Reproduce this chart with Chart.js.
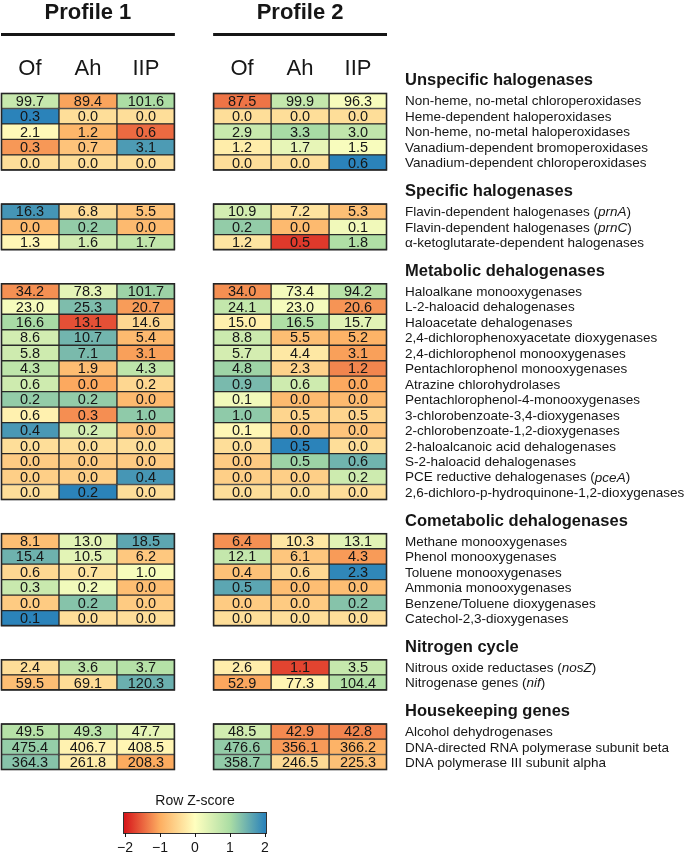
<!DOCTYPE html>
<html lang="en">
<head>
<meta charset="UTF-8">
<title>Halogenase gene heatmap</title>
<script src="https://cdn.jsdelivr.net/npm/chart.js"></script>
<style>
  html, body { margin: 0; padding: 0; background: #fff; }
  #wrap { width: 685px; height: 855px; }
</style>
</head>
<body>
<div id="wrap"><canvas id="heatmap" width="685" height="855"></canvas></div>
<script>
    // ---- data ----
    const profiles = ['Profile 1', 'Profile 2'];
    const columns = ['Of', 'Ah', 'IIP', 'Of', 'Ah', 'IIP'];
    const sections = ['Unspecific halogenases', 'Specific halogenases', 'Metabolic dehalogenases',
        'Cometabolic dehalogenases', 'Nitrogen cycle', 'Housekeeping genes'];
    const sectionSizes = [5, 3, 14, 6, 2, 3];
    // *text* marks an italic part
    const genes = [
        'Non-heme, no-metal chloroperoxidases', 'Heme-dependent haloperoxidases', 'Non-heme, no-metal haloperoxidases',
        'Vanadium-dependent bromoperoxidases', 'Vanadium-dependent chloroperoxidases',
        'Flavin-dependent halogenases (*prnA*)', 'Flavin-dependent halogenases (*prnC*)', 'α-ketoglutarate-dependent halogenases',
        'Haloalkane monooxygenases', 'L-2-haloacid dehalogenases', 'Haloacetate dehalogenases',
        '2,4-dichlorophenoxyacetate dioxygenases', '2,4-dichlorophenol monooxygenases', 'Pentachlorophenol monooxygenases',
        'Atrazine chlorohydrolases', 'Pentachlorophenol-4-monooxygenases', '3-chlorobenzoate-3,4-dioxygenases',
        '2-chlorobenzoate-1,2-dioxygenases', '2-haloalcanoic acid dehalogenases', 'S-2-haloacid dehalogenases',
        'PCE reductive dehalogenases (*pceA*)', '2,6-dichloro-p-hydroquinone-1,2-dioxygenases',
        'Methane monooxygenases', 'Phenol monooxygenases', 'Toluene monooxygenases', 'Ammonia monooxygenases',
        'Benzene/Toluene dioxygenases', 'Catechol-2,3-dioxygenases',
        'Nitrous oxide reductases (*nosZ*)', 'Nitrogenase genes (*nif*)',
        'Alcohol dehydrogenases', 'DNA-directed RNA polymerase subunit beta', 'DNA polymerase III subunit alpha'
    ];
    const p1Of  = [99.7, 0.3, 2.1, 0.3, 0.0,  16.3, 0.0, 1.3,  34.2, 23.0, 16.6, 8.6, 5.8, 4.3, 0.6, 0.2, 0.6, 0.4, 0.0, 0.0, 0.0, 0.0,  8.1, 15.4, 0.6, 0.3, 0.0, 0.1,  2.4, 59.5,  49.5, 475.4, 364.3];
    const p1Ah  = [89.4, 0.0, 1.2, 0.7, 0.0,  6.8, 0.2, 1.6,   78.3, 25.3, 13.1, 10.7, 7.1, 1.9, 0.0, 0.2, 0.3, 0.2, 0.0, 0.0, 0.0, 0.2, 13.0, 10.5, 0.7, 0.2, 0.2, 0.0, 3.6, 69.1,  49.3, 406.7, 261.8];
    const p1IIP = [101.6, 0.0, 0.6, 3.1, 0.0, 5.5, 0.0, 1.7,   101.7, 20.7, 14.6, 5.4, 3.1, 4.3, 0.2, 0.0, 1.0, 0.0, 0.0, 0.0, 0.4, 0.0, 18.5, 6.2, 1.0, 0.0, 0.0, 0.0,  3.7, 120.3, 47.7, 408.5, 208.3];
    const p2Of  = [87.5, 0.0, 2.9, 1.2, 0.0,  10.9, 0.2, 1.2,  34.0, 24.1, 15.0, 8.8, 5.7, 4.8, 0.9, 0.1, 1.0, 0.1, 0.0, 0.0, 0.0, 0.0,  6.4, 12.1, 0.4, 0.5, 0.0, 0.0,  2.6, 52.9,  48.5, 476.6, 358.7];
    const p2Ah  = [99.9, 0.0, 3.3, 1.7, 0.0,  7.2, 0.0, 0.5,   73.4, 23.0, 16.5, 5.5, 4.4, 2.3, 0.6, 0.0, 0.5, 0.0, 0.5, 0.5, 0.0, 0.0, 10.3, 6.1, 0.6, 0.0, 0.0, 0.0,  1.1, 77.3,  42.9, 356.1, 246.5];
    const p2IIP = [96.3, 0.0, 3.0, 1.5, 0.6,  5.3, 0.1, 1.8,   94.2, 20.6, 15.7, 5.2, 3.1, 1.2, 0.0, 0.0, 0.5, 0.0, 0.0, 0.6, 0.2, 0.0, 13.1, 4.3, 2.3, 0.0, 0.2, 0.0,  3.5, 104.4, 42.8, 366.2, 225.3];
    const zTicks = [-2, -1, 0, 1, 2];
    const palette = ['#d7191c', '#fdae61', '#ffffbf', '#abdda4', '#2b83ba']; // z = -2 .. 2

    const series = [p1Of, p1Ah, p1IIP, p2Of, p2Ah, p2IIP];

    // ---- layout in scale units ----
    const SECTION_GAP = 2.15;   // blank rows between blocks
    const PROFILE_GAP = 0.66;   // blank columns between profiles
    const rowPos = [];
    const sectionTop = [];
    let r = 0;
    sectionSizes.forEach((n, s) => {
        sectionTop.push(r + s * SECTION_GAP);
        for (let k = 0; k < n; k++) { rowPos.push(r + s * SECTION_GAP + 0.5); r++; }
    });
    const yMax = r + (sections.length - 1) * SECTION_GAP;
    const colStart = columns.map((_, c) => c + (c >= 3 ? PROFILE_GAP : 0));

    // row z-scores (sample sd, like R's scale())
    const zScores = genes.map((_, i) => {
        const vals = series.map(s => s[i]);
        const mean = vals.reduce((a, b) => a + b, 0) / vals.length;
        const sd = Math.sqrt(vals.reduce((a, b) => a + (b - mean) ** 2, 0) / (vals.length - 1));
        return vals.map(v => sd > 0 ? (v - mean) / sd : 0);
    });

    function hexToRgb(h) {
        return [1, 3, 5].map(k => parseInt(h.slice(k, k + 2), 16));
    }
    function zColor(z) {
        const t = Math.max(-2, Math.min(2, z)) + 2;
        const i = Math.min(3, Math.floor(t));
        const f = t - i;
        const a = hexToRgb(palette[i]), b = hexToRgb(palette[i + 1]);
        const c = a.map((v, k) => Math.round(v + (b[k] - v) * f));
        return `rgb(${c[0]},${c[1]},${c[2]})`;
    }

    const FONT = '"Liberation Sans", Arial, Helvetica, sans-serif';
    const INK = '#161616';

    function drawRich(ctx, text, x, y, size) {
        const parts = text.split('*');
        let cx = x;
        parts.forEach((p, k) => {
            ctx.font = (k % 2 ? 'italic ' : '') + size + 'px ' + FONT;
            ctx.fillText(p, cx, y);
            cx += ctx.measureText(p).width;
        });
    }

    const annotations = {
        id: 'annotations',
        afterDatasetsDraw(chart) {
            const { ctx, chartArea, scales: { x, y } } = chart;
            ctx.save();

            // heavier frame round each block
            ctx.strokeStyle = '#262626';
            ctx.lineWidth = 1.6;
            sections.forEach((_, s) => {
                const top = y.getPixelForValue(sectionTop[s]);
                const bottom = y.getPixelForValue(sectionTop[s] + sectionSizes[s]);
                profiles.forEach((_, k) => {
                    const left = x.getPixelForValue(colStart[k * 3]);
                    const right = x.getPixelForValue(colStart[k * 3 + 2] + 1);
                    ctx.strokeRect(left + 0.5, top + 0.5, right - left - 1, bottom - top - 1);
                });
            });

            ctx.fillStyle = INK;
            // cell values
            ctx.font = '14.5px ' + FONT;
            ctx.textAlign = 'center';
            ctx.textBaseline = 'middle';
            chart.data.datasets.forEach((ds, c) => {
                chart.getDatasetMeta(c).data.forEach((bar, i) => {
                    const p = bar.getProps(['x', 'base', 'y'], true);
                    ctx.fillText(ds.data[i].v.toFixed(1), (p.x + p.base) / 2, p.y + 1);
                });
            });

            // profile titles, rules and column names
            profiles.forEach((name, k) => {
                const left = x.getPixelForValue(colStart[k * 3]);
                const right = x.getPixelForValue(colStart[k * 3 + 2] + 1);
                ctx.font = 'bold 22px ' + FONT;
                ctx.textBaseline = 'alphabetic';
                ctx.fillText(name, (left + right) / 2, 19);
                ctx.fillRect(left, 33, right - left, 3);
            });
            ctx.font = '22px ' + FONT;
            ctx.textBaseline = 'middle';
            columns.forEach((name, c) => {
                ctx.fillText(name, x.getPixelForValue(colStart[c] + 0.5), 69);
            });

            // section headers and gene names
            const lx = chartArea.right + 18;
            ctx.textAlign = 'left';
            sections.forEach((name, s) => {
                ctx.font = 'bold 16.5px ' + FONT;
                ctx.fillText(name, lx, y.getPixelForValue(sectionTop[s] + 0.5) - 20);
            });
            genes.forEach((name, i) => {
                drawRich(ctx, name, lx, y.getPixelForValue(rowPos[i]) + 1, 13.5);
            });

            // colour key
            const kx0 = 125, kx1 = 265, ky0 = 812, ky1 = 833;
            const grad = ctx.createLinearGradient(kx0, 0, kx1, 0);
            palette.forEach((col, k) => grad.addColorStop(k / (palette.length - 1), col));
            ctx.fillStyle = grad;
            ctx.fillRect(kx0 - 2, ky0, kx1 - kx0 + 4, ky1 - ky0);
            ctx.strokeStyle = '#333';
            ctx.lineWidth = 1;
            ctx.strokeRect(kx0 - 2 + 0.5, ky0 + 0.5, kx1 - kx0 + 3, ky1 - ky0);
            ctx.fillStyle = INK;
            ctx.font = '14px ' + FONT;
            ctx.textAlign = 'center';
            ctx.fillText('Row Z-score', (kx0 + kx1) / 2, 801);
            zTicks.forEach(t => {
                const tx = kx0 + (t - zTicks[0]) / (zTicks[zTicks.length - 1] - zTicks[0]) * (kx1 - kx0);
                ctx.fillRect(Math.round(tx), ky1, 1, 4);
                ctx.fillText(t < 0 ? '\u2212' + Math.abs(t) : String(t), tx, 848);
            });
            ctx.restore();
        }
    };

    new Chart(document.getElementById('heatmap'), {
        type: 'bar',
        data: {
            datasets: series.map((vals, c) => ({
                label: columns[c],
                data: vals.map((v, i) => ({ x: [colStart[c], colStart[c] + 1], y: rowPos[i], v: v })),
                backgroundColor: vals.map((v, i) => zColor(zScores[i][c])),
                borderColor: '#2a2a2a',
                borderWidth: 1,
                borderSkipped: false,
                grouped: false,
                barPercentage: 1,
                categoryPercentage: 1
            }))
        },
        options: {
            indexAxis: 'y',
            responsive: false,
            animation: false,
            devicePixelRatio: 1,
            layout: { padding: { top: 93, bottom: 85, left: 1, right: 298 } },
            plugins: { legend: { display: false }, tooltip: { enabled: false } },
            scales: {
                x: { type: 'linear', min: 0, max: 6 + PROFILE_GAP, display: false },
                y: { type: 'linear', min: 0, max: yMax, reverse: true, offset: false, display: false, ticks: { stepSize: 1 } }
            }
        },
        plugins: [annotations]
    });
</script>
</body>
</html>
